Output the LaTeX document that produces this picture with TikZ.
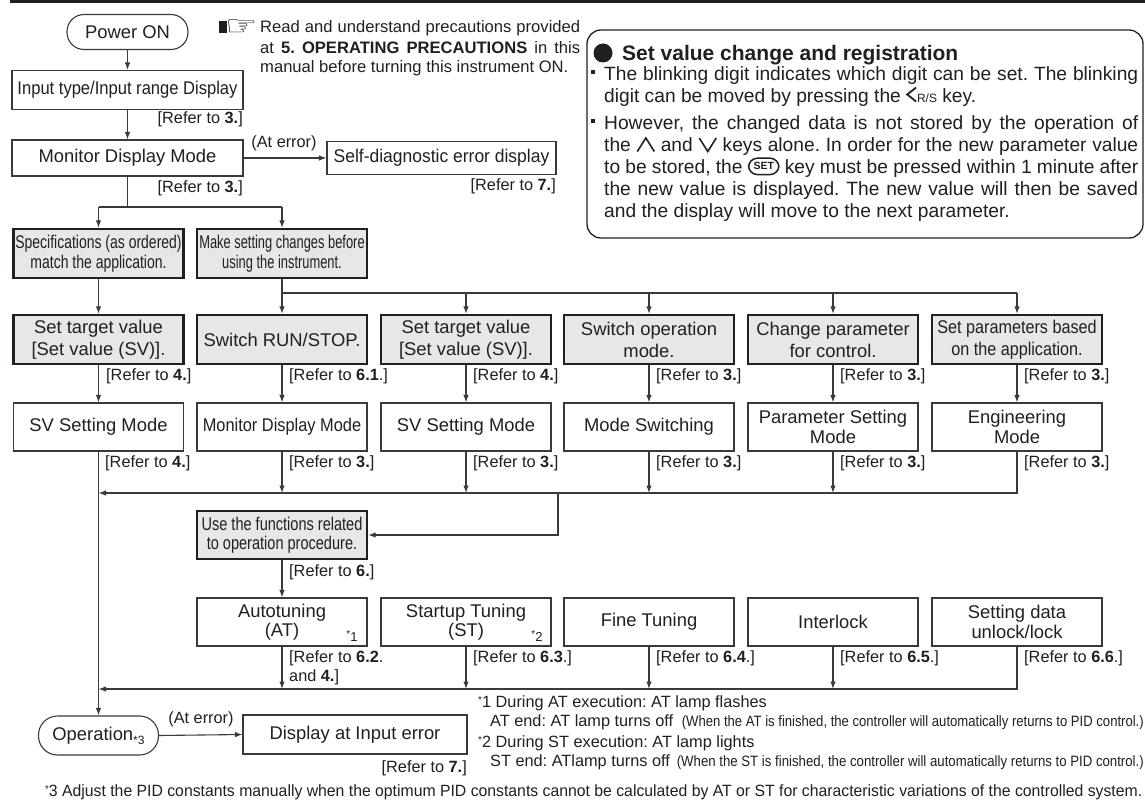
\documentclass[tikz,border=0pt]{standalone}
\usepackage{fontspec}
\setmainfont{Liberation Sans}
\newfontfamily\dejavu{DejaVu Sans}
\usepackage{graphicx}
\usetikzlibrary{arrows.meta}
\definecolor{tc}{HTML}{231F20}
\definecolor{lc}{HTML}{3A3A3A}
\definecolor{gfill}{HTML}{E6E7E8}
\frenchspacing
\newcommand\mainf{\fontsize{18.4}{21}\selectfont}
\newcommand\condf{\fontsize{18.4}{19.5}\selectfont}
\newcommand\reff{\fontsize{16.3}{19}\selectfont}
\newcommand\bodyf{\fontsize{19.2}{22}\selectfont}
\newcommand\notef{\fontsize{16.6}{20}\selectfont}
\newcommand\sx[2]{\scalebox{#1}[1]{#2}}
\newcommand\fitw[2]{\resizebox{#1}{\height}{#2}}
\newcommand\fnst{\raisebox{4pt}{\fontsize{10}{10}\selectfont *}}
\newcommand\upk{\tikz[x=1pt,y=1pt,baseline=0pt]\draw[tc,line width=1.6pt] (0,0) -- (8.5,13.5) -- (17,0);}
\newcommand\dnk{\tikz[x=1pt,y=1pt,baseline=0pt]\draw[tc,line width=1.6pt] (0,13.5) -- (8.5,0) -- (17,13.5);}
\newcommand\rsk{\tikz[x=1pt,y=1pt,baseline=-1pt]\draw[tc,line width=1.8pt] (9,14) -- (0,7) -- (9,0);{\fontsize{12}{12}\selectfont R/S}}
\newcommand\setk{\tikz[baseline=-4pt]\node[draw=tc,line width=1.5pt,rounded corners=9pt,inner xsep=5pt,inner ysep=4.5pt,text=tc,font=\fontsize{10.5}{10.5}\selectfont\bfseries] {SET};}
\begin{document}
\begin{tikzpicture}[x=1pt,y=-1pt,
 ln/.style={draw=lc,line width=1.1pt},
 arr/.style={ln,-{Latex[length=7.5pt,width=5.5pt]}},
 wbox/.style={draw=lc,line width=1.1pt,fill=white,minimum width=170pt,minimum height=48pt,inner sep=0pt,align=center,font=\mainf,text=tc},
 gbox/.style={wbox,draw=tc,fill=gfill,line width=2.4pt,minimum height=49pt},
 stad/.style={wbox,rounded corners=17pt},
 lab/.style={inner sep=0pt,font=\reff,text=tc},
 txt/.style={inner sep=0pt,text=tc,anchor=west},
 btxt/.style={inner sep=0pt,text=tc,anchor=base west,font=\bodyf},
]
\fill[white] (0,0) rectangle (1145,810);
\useasboundingbox (0,0) rectangle (1145,810);
\draw[tc,line width=2.6pt] (10,1.3) -- (1145,1.3);

% top column
\node[stad,minimum width=121pt,minimum height=35pt] (power) at (127.5,32) {Power ON};
\node[wbox,minimum width=231pt,minimum height=39pt] (input) at (127.5,90) {\sx{0.9}{Input type/Input range Display}};
\node[lab,anchor=east] (rf1) at (243,119) {[Refer to \textbf{3.}]};
\node[wbox,minimum width=231pt,minimum height=36pt] (mon) at (127.5,158) {Monitor Display Mode};
\node[lab,anchor=east] (rf2) at (243,188) {[Refer to \textbf{3.}]};
\node[wbox,minimum width=229pt,minimum height=33pt] (self) at (441.5,158) {\sx{0.95}{Self-diagnostic error display}};
\node[lab,anchor=east] (rf3) at (556,186) {[Refer to \textbf{7.}]};
\node[lab] (aterr1) at (284,143) {(At error)};

% note
\fill[tc] (219,21.5) rectangle (227,33);
\node[inner sep=0pt,anchor=west,text=tc,font=\dejavu\fontsize{19}{19}\selectfont] (hand) at (225,27.5) {\scalebox{1.9}[1.45]{☞}};
\node[txt,font=\notef] (n1) at (260,28) {\makebox[320pt][s]{Read and understand precautions provided}};
\node[txt,font=\notef] (n2) at (260,48) {\makebox[320pt][s]{at \textbf{5. OPERATING PRECAUTIONS} in this}};
\node[txt,font=\notef] (n3) at (260,68.5) {manual before turning this instrument ON.};

% set value box
\node[draw=tc,line width=1.3pt,rounded corners=14pt,minimum width=556pt,minimum height=208pt,inner sep=0pt] (svbox) at (865,134) {};
\node[circle,fill=tc,minimum size=19pt,inner sep=0pt] (dot) at (603,53) {};
\node[inner sep=0pt,text=tc,anchor=base west,font=\fontsize{21}{24}\selectfont\bfseries] (head) at (622,61) {Set value change and registration};
\fill[tc] (590.5,70.5) rectangle (594.5,74.5);
\fill[tc] (590.5,119.5) rectangle (594.5,123.5);
\node[btxt] (b1) at (604,80.5) {\makebox[534pt][s]{The blinking digit indicates which digit can be set. The blinking}};
\node[btxt] (b2) at (604,102.5) {digit can be moved by pressing the \rsk{} key.};
\node[btxt] (b3) at (604,129.5) {\makebox[534pt][s]{However, the changed data is not stored by the operation of}};
\node[btxt] (b4) at (604,151.5) {\makebox[534pt][s]{the \upk{} and \dnk{} keys alone. In order for the new parameter value}};
\node[btxt] (b5) at (604,174) {\makebox[534pt][s]{to be stored, the \setk{} key must be pressed within 1 minute after}};
\node[btxt] (b6) at (604,196) {\makebox[534pt][s]{the new value is displayed. The new value will then be saved}};
\node[btxt] (b7) at (604,218) {and the display will move to the next parameter.};

% row 1 (gray)
\node[gbox,font=\condf] (spec) at (98.5,253.5) {\sx{0.76}{Specifications (as ordered)}\\\sx{0.76}{match the application.}};
\node[gbox,font=\condf] (make) at (282,253.5) {\sx{0.70}{Make setting changes before}\\\sx{0.70}{using the instrument.}};

% row 2 (gray)
\node[gbox,font=\fontsize{18.4}{22}\selectfont] (r2a) at (98.5,339.5) {Set target value\\{}[Set value (SV)].};
\node[gbox] (r2b) at (282,339.5) {Switch RUN/STOP.};
\node[gbox,font=\fontsize{18.4}{22}\selectfont] (r2c) at (466,339.5) {Set target value\\{}[Set value (SV)].};
\node[gbox,font=\fontsize{18.4}{22}\selectfont] (r2d) at (649,339.5) {Switch operation\\mode.};
\node[gbox,font=\fontsize{18.4}{22}\selectfont] (r2e) at (833,339.5) {Change parameter\\for control.};
\node[gbox,font=\fontsize{18.4}{22}\selectfont] (r2f) at (1017,339.5) {\sx{0.88}{Set parameters based}\\\sx{0.88}{on the application.}};
\node[lab,anchor=west] (l2a) at (106,376) {[Refer to \textbf{4.}]};
\node[lab,anchor=west] (l2b) at (289,376) {[Refer to \textbf{6.1}.]};
\node[lab,anchor=west] (l2c) at (473,376) {[Refer to \textbf{4.}]};
\node[lab,anchor=west] (l2d) at (656,376) {[Refer to \textbf{3.}]};
\node[lab,anchor=west] (l2e) at (840,376) {[Refer to \textbf{3.}]};
\node[lab,anchor=west] (l2f) at (1024,376) {[Refer to \textbf{3.}]};

% row 3
\node[wbox] (r3a) at (98.5,427) {SV Setting Mode};
\node[wbox] (r3b) at (282,427) {\sx{0.89}{Monitor Display Mode}};
\node[wbox] (r3c) at (466,427) {SV Setting Mode};
\node[wbox] (r3d) at (649,427) {Mode Switching};
\node[wbox,font=\fontsize{18.4}{19.5}\selectfont] (r3e) at (833,427) {Parameter Setting\\Mode};
\node[wbox,font=\fontsize{18.4}{19.5}\selectfont] (r3f) at (1017,427) {Engineering\\Mode};
\node[lab,anchor=west] (l3a) at (105,463) {[Refer to \textbf{4.}]};
\node[lab,anchor=west] (l3b) at (289,463) {[Refer to \textbf{3.}]};
\node[lab,anchor=west] (l3c) at (473,463) {[Refer to \textbf{3.}]};
\node[lab,anchor=west] (l3d) at (656,463) {[Refer to \textbf{3.}]};
\node[lab,anchor=west] (l3e) at (840,463) {[Refer to \textbf{3.}]};
\node[lab,anchor=west] (l3f) at (1024,463) {[Refer to \textbf{3.}]};

% use functions
\node[gbox,font=\condf,minimum height=48pt] (use) at (282,535) {\sx{0.79}{Use the functions related}\\\sx{0.79}{to operation procedure.}};
\node[lab,anchor=west] (l6) at (289,572) {[Refer to \textbf{6.}]};

% row 4
\node[wbox,font=\fontsize{18.4}{19.5}\selectfont] (r4a) at (282,622) {Autotuning\\(AT)};
\node[wbox,font=\fontsize{18.4}{19.5}\selectfont] (r4b) at (466,622) {Startup Tuning\\(ST)};
\node[wbox] (r4c) at (649,622) {Fine Tuning};
\node[wbox] (r4d) at (833,622) {Interlock};
\node[wbox,font=\fontsize{18.4}{19.5}\selectfont] (r4e) at (1017,622) {Setting data\\unlock/lock};
\node[lab,font=\fontsize{13}{13}\selectfont] (st1) at (352,636) {\fnst1};
\node[lab,font=\fontsize{13}{13}\selectfont] (st2) at (537,636) {\fnst2};
\node[lab,anchor=west] (l4a) at (289,658) {[Refer to \textbf{6.2}.};
\node[lab,anchor=west] (l4a2) at (289,677) {and \textbf{4.}]};
\node[lab,anchor=west] (l4b) at (473,658) {[Refer to \textbf{6.3}.]};
\node[lab,anchor=west] (l4c) at (656,658) {[Refer to \textbf{6.4}.]};
\node[lab,anchor=west] (l4d) at (840,658) {[Refer to \textbf{6.5}.]};
\node[lab,anchor=west] (l4e) at (1024,658) {[Refer to \textbf{6.6}.]};

% operation
\node[stad,minimum width=120pt,minimum height=39pt,rounded corners=19pt] (op) at (98.5,735.5) {Operation\raisebox{-4pt}{\fontsize{12}{12}\selectfont *3}};
\node[wbox,minimum width=224pt,minimum height=39pt] (disp) at (355,734.5) {Display at Input error};
\node[lab] (aterr2) at (201,719) {(At error)};
\node[lab,anchor=east] (rf7) at (467,768) {[Refer to \textbf{7.}]};

% footnotes
\node[txt,font=\reff] (f1a) at (478,703) {\fnst1 During AT execution: AT lamp flashes};
\node[txt,font=\reff] (f1b) at (490,722) {AT end: AT lamp turns off};
\node[lab,anchor=east,font=\fontsize{15}{16}\selectfont] (f1c) at (1144,722.5) {\fitw{462pt}{(When the AT is finished, the controller will automatically returns to PID control.)}};
\node[txt,font=\reff] (f2a) at (478,743) {\fnst2 During ST execution: AT lamp lights};
\node[txt,font=\reff] (f2b) at (490,762) {ST end: ATlamp turns off};
\node[lab,anchor=east,font=\fontsize{15}{16}\selectfont] (f2c) at (1144,762.5) {\fitw{467pt}{(When the ST is finished, the controller will automatically returns to PID control.)}};
\node[txt,font=\reff] (f3) at (45,792) {\fitw{1097pt}{\fnst3 Adjust the PID constants manually when the optimum PID constants cannot be calculated by AT or ST for characteristic variations of the controlled system.}};

% connectors
\draw[arr] (power.south) -- (input.north);
\draw[arr] (input.south) -- (mon.north);
\draw[arr] (mon.east) -- (self.west);
\coordinate (jA) at (98.5,207);
\coordinate (jB) at (282,207);
\draw[ln] (mon.south) |- (jA);
\draw[ln] (mon.south) |- (jB);
\draw[arr] (jA) -- (spec.north);
\draw[arr] (jB) -- (make.north);
\draw[arr] (spec.south) -- (r2a.north);
\coordinate (b1F) at (1017,293);
\draw[ln] (make.south) |- (b1F);
\foreach \n in {r2b,r2c,r2d,r2e,r2f} \draw[arr] (\n.north |- b1F) -- (\n.north);
\foreach \a/\b in {r2a/r3a,r2b/r3b,r2c/r3c,r2d/r3d,r2e/r3e,r2f/r3f} \draw[arr] (\a.south) -- (\b.north);
\draw[arr] (r3a.south) -- (op.north);
\coordinate (b2A) at (98.5,493);
\draw[arr] (r3f.south) |- (b2A);
\foreach \n in {r3b,r3c,r3d,r3e} \draw[arr] (\n.south) -- (\n.south |- b2A);
\coordinate (b2t) at (558,493);
\draw[arr] (b2t) |- (use.east);
\draw[arr] (use.south) -- (r4a.north);
\coordinate (b3A) at (98.5,689);
\draw[arr] (r4e.south) |- (b3A);
\foreach \n in {r4a,r4b,r4c,r4d} \draw[arr] (\n.south) -- (\n.south |- b3A);
\draw[arr] (op.east) -- (disp.west);
\end{tikzpicture}
\end{document}
